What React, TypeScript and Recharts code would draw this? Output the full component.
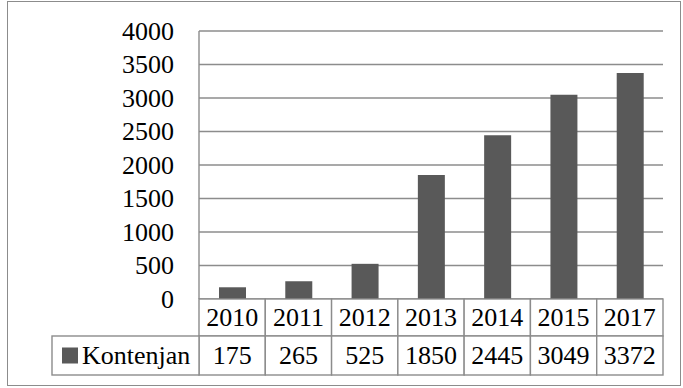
import React from 'react';
import { BarChart, Bar, XAxis, YAxis, CartesianGrid } from 'recharts';

const years = ['2010', '2011', '2012', '2013', '2014', '2015', '2017'];
const kontenjan = [175, 265, 525, 1850, 2445, 3049, 3372];
const yTicks = [0, 500, 1000, 1500, 2000, 2500, 3000, 3500, 4000];
const seriesName = 'Kontenjan';

const data = years.map((y, i) => ({ year: y, value: kontenjan[i] }));

const W = 683;
const H = 388;
const PLOT_LEFT = 199;
const PLOT_RIGHT = 663;
const PLOT_TOP = 31;
const PLOT_BOTTOM = 299;
const ROW1 = 37;
const ROW2 = 39;
const LEGEND_LEFT = 52;
const FONT = "'Liberation Serif', 'Times New Roman', serif";
const FS = 26;
const LINE = '#8c8c8c';
const BAR = '#595959';
const textStyle = { fontFamily: FONT, fontSize: FS, fill: '#000' };

const css = `
html, body { margin: 0 !important; padding: 0; background: #fff; }
svg text, svg tspan { font-family: 'Liberation Serif', 'Times New Roman', serif !important; font-size: 26px !important; }
`;

const YTick = (props: any) => {
  const { x, y, payload } = props;
  return (
    <text x={x} y={y} dy="0.34em" textAnchor="end" style={textStyle}>
      {payload.value}
    </text>
  );
};

const XTick = (props: any) => {
  const { x, y, payload, index } = props;
  const bw = (PLOT_RIGHT - PLOT_LEFT) / years.length;
  const left = x - bw / 2;
  return (
    <g>
      <rect x={left} y={y} width={bw} height={ROW1} fill="#fff" stroke={LINE} strokeWidth={1.4} />
      <text x={x} y={y + ROW1 / 2} dy="0.34em" textAnchor="middle" style={textStyle}>
        {payload.value}
      </text>
      <rect x={left} y={y + ROW1} width={bw} height={ROW2} fill="#fff" stroke={LINE} strokeWidth={1.4} />
      <text x={x} y={y + ROW1 + ROW2 / 2} dy="0.34em" textAnchor="middle" style={textStyle}>
        {kontenjan[index]}
      </text>
      {index === 0 && (
        <g>
          <rect x={LEGEND_LEFT} y={y + ROW1} width={left - LEGEND_LEFT} height={ROW2} fill="#fff" stroke={LINE} strokeWidth={1.4} />
          <rect x={LEGEND_LEFT + 10} y={y + ROW1 + ROW2 / 2 - 8} width={16} height={16} fill={BAR} />
          <text x={LEGEND_LEFT + 30} y={y + ROW1 + ROW2 / 2} dy="0.34em" textAnchor="start" style={textStyle}>
            {seriesName}
          </text>
        </g>
      )}
    </g>
  );
};

export default function App() {
  return (
    <div style={{ position: 'relative', width: W, height: H }}>
      <style>{css}</style>
      <div style={{ position: 'absolute', left: 7, top: 1, width: 674, height: 385, border: `1.5px solid ${LINE}`, boxSizing: 'border-box', pointerEvents: 'none' }} />
      <BarChart
        width={W}
        height={H}
        data={data}
        margin={{ top: PLOT_TOP, right: W - PLOT_RIGHT, bottom: 0, left: 0 }}
      >
        <CartesianGrid vertical={false} stroke={LINE} strokeWidth={1.4} />
        <YAxis
          type="number"
          domain={[0, 4000]}
          ticks={yTicks}
          width={PLOT_LEFT}
          tickLine={false}
          tickSize={0}
          tickMargin={25}
          axisLine={{ stroke: LINE, strokeWidth: 1.4 }}
          tick={<YTick />}
          interval={0}
        />
        <XAxis
          dataKey="year"
          height={H - PLOT_BOTTOM}
          tickLine={false}
          tickSize={0}
          tickMargin={0}
          axisLine={false}
          interval={0}
          tick={<XTick />}
        />
        <Bar dataKey="value" fill={BAR} barSize={27} isAnimationActive={false} />
      </BarChart>
    </div>
  );
}
